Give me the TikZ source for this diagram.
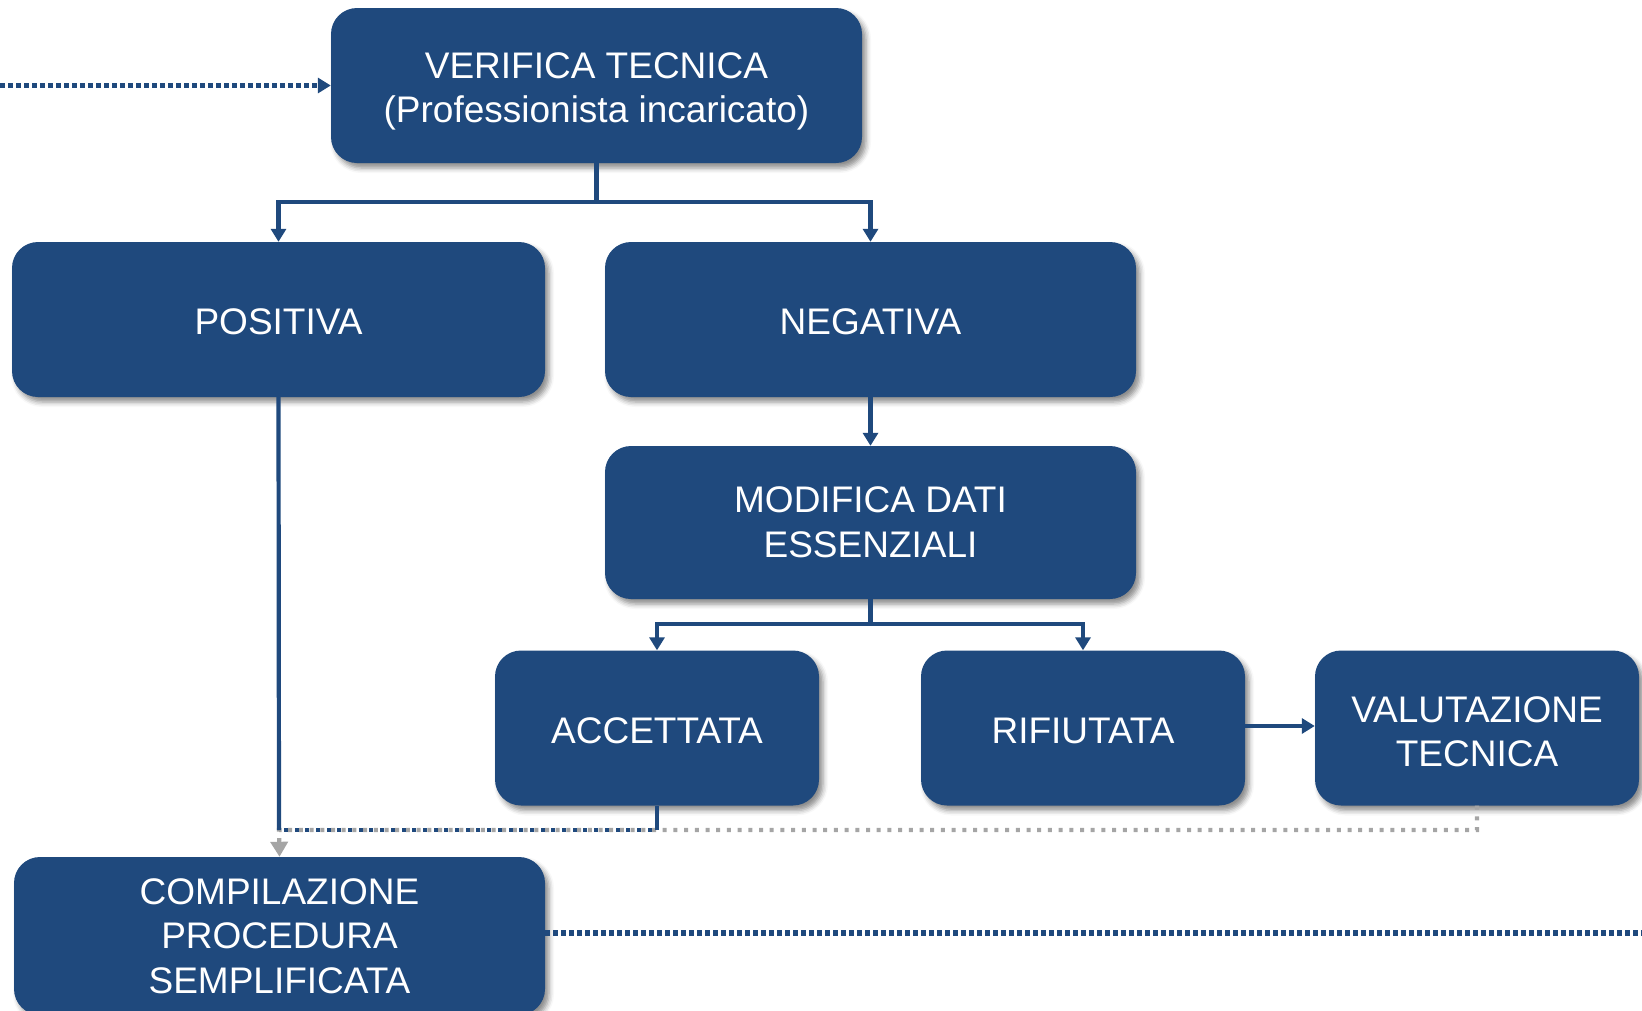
\documentclass[tikz,border=0pt]{standalone}
\usepackage{fontspec}
\setmainfont{Liberation Sans}
\usetikzlibrary{arrows.meta,shadows.blur,calc}
\definecolor{boxblue}{RGB}{31,73,125}
\definecolor{linkgray}{RGB}{165,165,165}
\tikzset{
  stepbox/.style={draw=none, fill=boxblue, rounded corners=26pt, text=white,
    align=center, inner sep=0pt,
    font=\fontsize{37}{44.5}\selectfont,
    execute at begin node={\rule{0pt}{31pt}},
    blur shadow={shadow xshift=4pt, shadow yshift=-5pt, shadow blur radius=5pt, shadow opacity=45}},
  link/.style={draw=boxblue, line width=4.2pt, -{Triangle[width=15pt,length=13pt]}},
  plain/.style={draw=boxblue, line width=4.2pt},
  bluedots/.style={draw=boxblue, line width=5.5pt, dash pattern=on 4.5pt off 3.5pt},
  graydots/.style={draw=linkgray, line width=4.2pt, dash pattern=on 4pt off 6.7pt},
}
\begin{document}
\begin{tikzpicture}[x=1pt,y=-1pt]
\useasboundingbox (0,0) rectangle (1642,1010);

% process boxes
\node[stepbox, minimum width=531pt, minimum height=155pt] (ver) at (596.5,85.5)
  {\rule{0pt}{38pt}VERIFICA TECNICA\\(Professionista incaricato)};
\node[stepbox, minimum width=533pt, minimum height=155pt] (pos) at (278.5,319.5) {POSITIVA};
\node[stepbox, minimum width=531pt, minimum height=155pt] (neg) at (870.5,319.5) {NEGATIVA};
\node[stepbox, minimum width=531pt, minimum height=153pt] (mod) at (870.5,522.5)
  {MODIFICA DATI\\ESSENZIALI};
\node[stepbox, minimum width=324pt, minimum height=155pt] (acc) at (657,728) {ACCETTATA};
\node[stepbox, minimum width=324pt, minimum height=155pt] (rif) at (1083,728) {RIFIUTATA};
\node[stepbox, minimum width=324pt, minimum height=155pt] (val) at (1477,728)
  {\rule{0pt}{33pt}VALUTAZIONE\\TECNICA};
\node[stepbox, minimum width=531pt, minimum height=158pt] (comp) at (279.5,936)
  {COMPILAZIONE\\PROCEDURA\\SEMPLIFICATA};

% junction points
\coordinate (b1) at (596.5,202);
\coordinate (b2) at (870.5,624);
\coordinate (j) at (279,830);
\coordinate (inL) at (0,85.5);
\coordinate (outR) at (1642,933);

% incoming and outgoing dotted links
\draw[bluedots, -{Triangle[width=15pt,length=13pt]}] (inL) -- (ver.west);
\draw[bluedots] (comp.east |- outR) -- (outR);

% branching from the technical check
\draw[plain] (ver.south) -- (b1);
\draw[link] (b1) -| (pos.north);
\draw[link] (b1) -| (neg.north);
\draw[link] (neg.south) -- (mod.north);

% branching from the data change
\draw[plain] (mod.south) -- (b2);
\draw[link] (b2) -| (acc.north);
\draw[link] (b2) -| (rif.north);
\draw[link] (rif.east |- 0,726) -- (val.west |- 0,726);

% return paths towards the simplified procedure
\draw[graydots, -{Triangle[width=17pt,length=15pt,fill=linkgray]}]
  (val.south) |- (j) -- (comp.north);
\draw[plain] (pos.south) -- (j);
\draw[plain] (acc.south) -- (acc.south |- j);
\draw[draw=boxblue, line width=4.2pt, dash pattern=on 4pt off 6.7pt, dash phase=5.35pt]
  (acc.south |- j) -- (j);
\end{tikzpicture}
\end{document}
